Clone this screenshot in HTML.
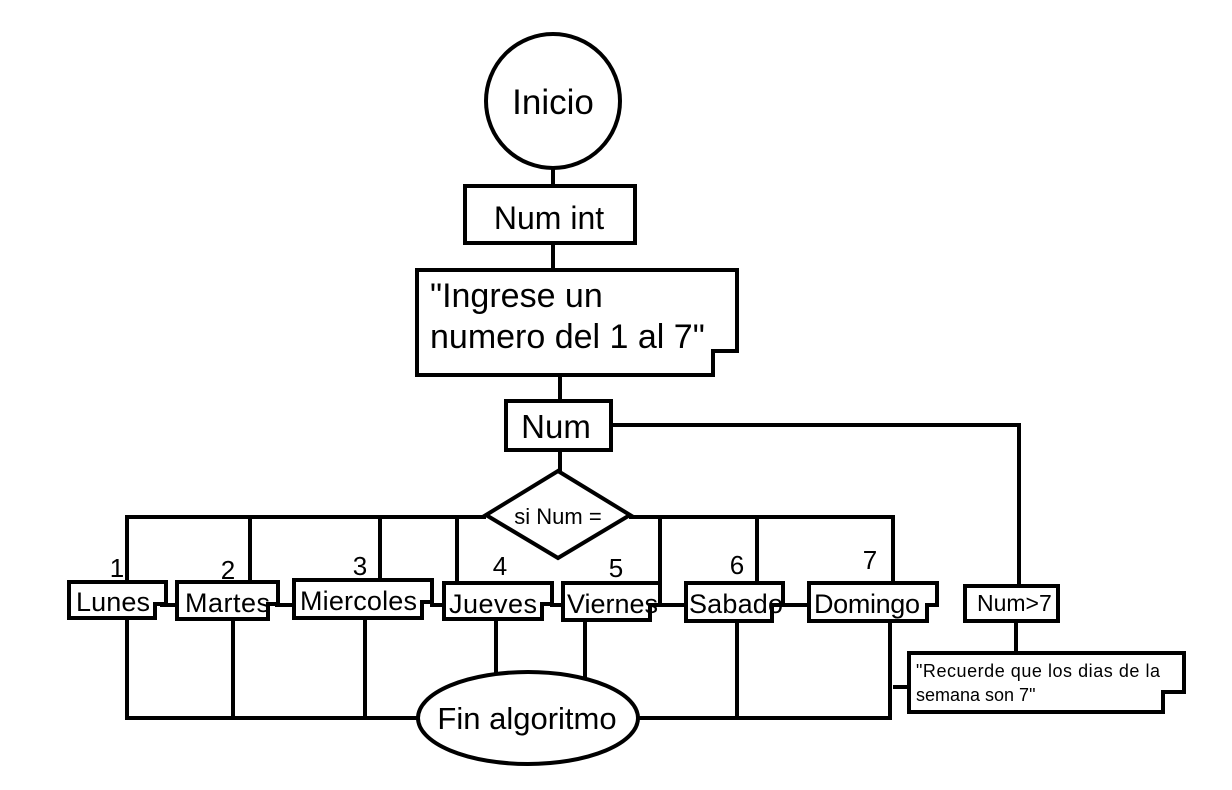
<!DOCTYPE html>
<html><head><meta charset="utf-8"><style>
html,body{margin:0;padding:0;background:#fff;}
svg{display:block;}
text{font-family:"Liberation Sans",Arial,sans-serif;fill:#000;}
</style></head><body>
<svg width="1232" height="790" viewBox="0 0 1232 790" xmlns="http://www.w3.org/2000/svg">
<g stroke="#000" stroke-width="4" fill="none">
<line x1="553" y1="168" x2="553" y2="186"/>
<line x1="553" y1="243" x2="553" y2="270"/>
<line x1="560" y1="375" x2="560" y2="401"/>
<line x1="560" y1="450" x2="560" y2="471"/>
<polyline points="611,425 1019,425 1019,586"/>
<line x1="1016" y1="621" x2="1016" y2="653"/>
<line x1="893" y1="687" x2="909" y2="687"/>
<polyline points="127,583 127,517 486,517"/>
<polyline points="629,517 893,517 893,585"/>
<line x1="250" y1="517" x2="250" y2="583"/>
<line x1="380" y1="517" x2="380" y2="581"/>
<line x1="457" y1="517" x2="457" y2="583"/>
<line x1="660" y1="517" x2="660" y2="583"/>
<line x1="757" y1="517" x2="757" y2="585"/>
<line x1="160" y1="605" x2="178" y2="605"/>
<line x1="275" y1="605" x2="294" y2="605"/>
<line x1="430" y1="605" x2="445" y2="605"/>
<line x1="550" y1="605" x2="563" y2="605"/>
<line x1="658" y1="605" x2="686" y2="605"/>
<line x1="780" y1="605" x2="809" y2="605"/>
<polyline points="127,618 127,718 418,718"/>
<line x1="233" y1="619" x2="233" y2="718"/>
<line x1="365" y1="618" x2="365" y2="718"/>
<line x1="496" y1="618" x2="496" y2="673"/>
<line x1="585" y1="620" x2="585" y2="688"/>
<polyline points="638,718 890,718 890,621"/>
<line x1="737" y1="621" x2="737" y2="718"/>
</g>
<g stroke="#000" stroke-width="4" fill="#fff">
<circle cx="553" cy="101" r="67"/>
<rect x="465" y="186" width="170" height="57"/>
<polygon points="417,270 737,270 737,351 713,351 713,375 417,375"/>
<rect x="506" y="401" width="105" height="49"/>
<polygon points="558,471 630,515 558,558 486,515"/>
<polygon points="69,582 166,582 166,604 155,604 155,618 69,618"/>
<polygon points="177,582 278,582 278,604 268,604 268,619 177,619"/>
<polygon points="294,580 432,580 432,602 422,602 422,618 294,618"/>
<polygon points="444,583 552,583 552,604 542,604 542,619 444,619"/>
<polygon points="563,583 660,583 660,605 650,605 650,620 563,620"/>
<polygon points="686,583 783,583 783,605 772,605 772,621 686,621"/>
<polygon points="809,583 937,583 937,605 927,605 927,621 809,621"/>
<rect x="965" y="586" width="93" height="35"/>
<polygon points="909,653 1184,653 1184,692 1163,692 1163,712 909,712"/>
<ellipse cx="528" cy="718" rx="110" ry="46"/>
</g>
<g stroke="none">
<text x="553" y="114" font-size="35" text-anchor="middle">Inicio</text>
<text x="549" y="229" font-size="32" text-anchor="middle">Num int</text>
<text x="430" y="307" font-size="34">"Ingrese un</text>
<text x="430" y="348" font-size="34">numero del 1 al 7"</text>
<text x="556" y="438" font-size="33" text-anchor="middle">Num</text>
<text x="558" y="524" font-size="22" text-anchor="middle">si Num =</text>
<text x="117" y="577" font-size="26" text-anchor="middle">1</text>
<text x="228" y="579" font-size="26" text-anchor="middle">2</text>
<text x="360" y="575" font-size="26" text-anchor="middle">3</text>
<text x="500" y="575" font-size="26" text-anchor="middle">4</text>
<text x="616" y="577" font-size="26" text-anchor="middle">5</text>
<text x="737" y="574" font-size="26" text-anchor="middle">6</text>
<text x="870" y="569" font-size="26" text-anchor="middle">7</text>
<text x="76" y="611" font-size="27" textLength="74">Lunes</text>
<text x="185" y="612" font-size="27" textLength="85">Martes</text>
<text x="300" y="610" font-size="27" textLength="117">Miercoles</text>
<text x="449" y="613" font-size="27" textLength="88">Jueves</text>
<text x="567" y="613" font-size="27" textLength="91">Viernes</text>
<text x="689" y="613" font-size="27" textLength="94">Sabado</text>
<text x="814" y="613" font-size="27" textLength="106">Domingo</text>
<text x="977" y="611" font-size="23">Num&gt;7</text>
<text x="916" y="677" font-size="18" textLength="244">"Recuerde que los dias de la</text>
<text x="916" y="701" font-size="18">semana son 7"</text>
<text x="527" y="729" font-size="31" text-anchor="middle">Fin algoritmo</text>
</g>
</svg>
</body></html>
